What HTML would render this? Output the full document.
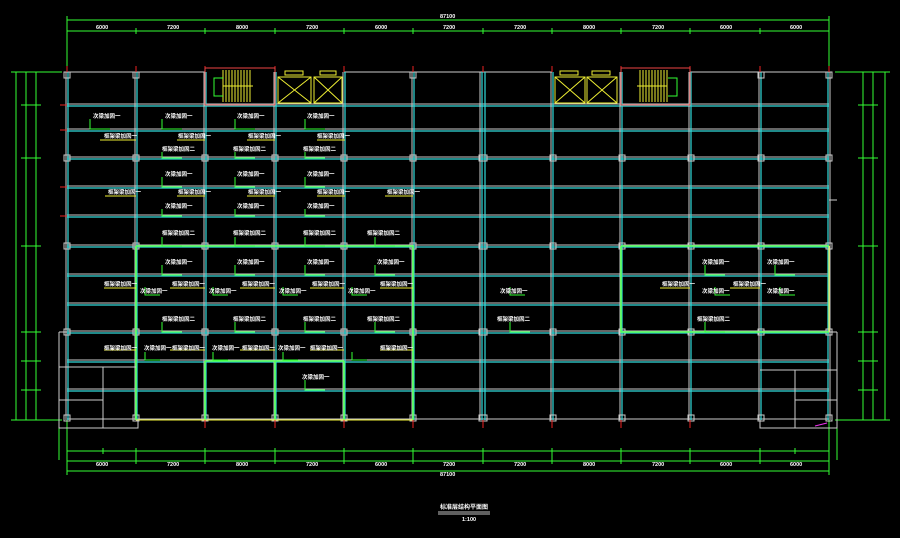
<!DOCTYPE html><html><head><meta charset="utf-8"><style>html,body{margin:0;background:#000;width:900px;height:538px;overflow:hidden}svg{display:block}text{font-family:"Liberation Sans","Noto Sans CJK SC",sans-serif;font-size:5.5px;fill:#fff;font-weight:bold}</style></head><body>
<svg width="900" height="538" viewBox="0 0 900 538">
<g stroke-width="1" fill="none">
<g stroke="#3f3">
<line x1="67" y1="20" x2="829" y2="20"/><line x1="67" y1="31" x2="829" y2="31"/>
<line x1="67" y1="16" x2="67" y2="72"/><line x1="829" y1="16" x2="829" y2="72"/>
<line x1="67" y1="451" x2="829" y2="451"/><line x1="67" y1="461" x2="829" y2="461"/><line x1="67" y1="471" x2="829" y2="471"/>
<line x1="59" y1="420" x2="59" y2="460"/><line x1="67" y1="420" x2="67" y2="475"/><line x1="837" y1="420" x2="837" y2="460"/><line x1="829" y1="420" x2="829" y2="475"/>
<line x1="16" y1="72" x2="16" y2="420"/><line x1="26" y1="72" x2="26" y2="420"/><line x1="36" y1="72" x2="36" y2="420"/>
<line x1="11" y1="72" x2="62" y2="72"/><line x1="11" y1="420" x2="62" y2="420"/>
<line x1="863" y1="72" x2="863" y2="420"/><line x1="873" y1="72" x2="873" y2="420"/><line x1="885" y1="72" x2="885" y2="420"/>
<line x1="835" y1="72" x2="890" y2="72"/><line x1="835" y1="420" x2="890" y2="420"/>
</g>
<g stroke="#3f3" stroke-width="1">
<path d="M136 28v6M205 28v6M275 28v6M344 28v6M413 28v6M483 28v6M552 28v6M621 28v6M690 28v6M760 28v6M136 448v16M205 448v16M275 448v16M344 448v16M413 448v16M483 448v16M552 448v16M621 448v16M690 448v16M760 448v16M103 448v6M795 448v6"/>
<path d="M21 105h20M21 158h20M21 246h20M21 332h20M21 361h20M21 390h20M858 105h20M858 158h20M858 246h20M858 332h20M858 361h20M858 390h20"/>
</g>
<g stroke="#ccc">
<path d="M67 72H205M344 72H552M690 72H829M67 104H829M67 129H829M67 157H829M67 186H829M67 215H829M67 245H829M67 274H829M67 303H829M67 331H829M67 360H829M67 389H829M67 419H829"/>
</g>
<g stroke="#3dd" stroke-width="1.2">
<path d="M67 106H829M67 131H829M67 159H829M67 188H829M67 217H829M67 247H829M67 276H829M67 305H829M67 333H829M67 362H829M67 391H829"/>
</g>
<g stroke="#ccc"><path d="M66 72V420M135 72V420M204 72V420M274 72V420M343 72V420M412 72V420M480 72V420M551 72V420M620 72V420M689 72V420M759 72V420M830 72V420"/></g>
<g stroke="#3dd" stroke-width="1.2"><path d="M68 72V420M137 72V420M206 72V420M276 72V420M345 72V420M414 72V420M482 72V420M485 72V420M553 72V420M622 72V420M691 72V420M761 72V420M828 72V420"/></g>
<!-- columns -->
<g stroke="#ccc">
<path d="M64 155h6v6h-6zM133 155h6v6h-6zM202 155h6v6h-6zM272 155h6v6h-6zM341 155h6v6h-6zM410 155h6v6h-6zM479 155h8v6h-8zM550 155h6v6h-6zM619 155h6v6h-6zM688 155h6v6h-6zM758 155h6v6h-6zM826 155h6v6h-6z"/>
<path d="M64 243h6v6h-6zM133 243h6v6h-6zM202 243h6v6h-6zM272 243h6v6h-6zM341 243h6v6h-6zM410 243h6v6h-6zM479 243h8v6h-8zM550 243h6v6h-6zM619 243h6v6h-6zM688 243h6v6h-6zM758 243h6v6h-6zM826 243h6v6h-6z"/>
<path d="M64 329h6v6h-6zM133 329h6v6h-6zM202 329h6v6h-6zM272 329h6v6h-6zM341 329h6v6h-6zM410 329h6v6h-6zM479 329h8v6h-8zM550 329h6v6h-6zM619 329h6v6h-6zM688 329h6v6h-6zM758 329h6v6h-6zM826 329h6v6h-6z"/>
<path d="M64 415h6v6h-6zM133 415h6v6h-6zM202 415h6v6h-6zM272 415h6v6h-6zM341 415h6v6h-6zM410 415h6v6h-6zM479 415h8v6h-8zM550 415h6v6h-6zM619 415h6v6h-6zM688 415h6v6h-6zM758 415h6v6h-6zM826 415h6v6h-6z"/>
<path d="M64 72h6v6h-6zM133 72h6v6h-6zM410 72h6v6h-6zM758 72h6v6h-6zM826 72h6v6h-6z"/>
</g>
<g stroke="#5f5" stroke-width="1.6"><path d="M136 246H413V420M136 246V420M205 361V420M275 361V420M344 361V420M205 361H344M621 246H829M621 246V332H829"/></g>
<g stroke="#ee3"><path d="M136 420H413M829 246V332"/></g>
<g stroke="#e22"><path d="M67 66v6M136 66v6M205 66v6M275 66v6M344 66v6M413 66v6M483 66v6M552 66v6M621 66v6M690 66v6M760 66v6M829 66v6M60 105h7M60 130h7M60 187h7M60 216h7M205 420v8M275 420v8M344 420v8M413 420v8M483 420v8M552 420v8M621 420v8M690 420v8M760 420v8"/></g>
<g stroke="#ccc"><path d="M59 332V428H138V420M59 332H67M59 367H136M103 367V428M59 400H103"/></g>
<g stroke="#ccc"><path d="M837 332V428H760V420M829 332H837M760 370H837M795 370V428M795 400H837M829 200H837"/></g>
<g stroke="#e44"><rect x="205" y="68" width="70" height="37"/><rect x="621" y="68" width="69" height="37"/></g>
<g stroke="#ee3">
<rect x="278" y="77" width="33" height="26"/><rect x="314" y="77" width="28" height="26"/><path d="M278 77l33 26M311 77l-33 26M314 77l28 26M342 77l-28 26"/>
<rect x="555" y="77" width="30" height="26"/><rect x="587" y="77" width="30" height="26"/><path d="M555 77l30 26M585 77l-30 26M587 77l30 26M617 77l-30 26"/>
<rect x="285" y="71" width="18" height="4"/><rect x="320" y="71" width="16" height="4"/><rect x="560" y="71" width="18" height="4"/><rect x="592" y="71" width="18" height="4"/>
<path d="M223 70v32M226 70v32M229 70v32M232 70v32M235 70v32M238 70v32M241 70v32M244 70v32M247 70v32M250 70v32M223 86h30M640 70v32M643 70v32M646 70v32M649 70v32M652 70v32M655 70v32M658 70v32M661 70v32M664 70v32M667 70v32M637 86h30"/>
</g>
<g stroke="#3f3"><path d="M223 78h-9v18h9M668 78h9v18h-9"/></g>
<g stroke="#3f3"><path d="M90 119v10h20M162 119v10h20M235 119v10h20M305 119v10h20M162 152v6h20M235 152v6h20M305 152v6h20M162 177v10h20M235 177v10h20M305 177v10h20M162 209v7h20M235 209v7h20M305 209v7h20M162 237v9h20M235 237v9h20M305 237v9h20M375 237v9h20M162 265v10h20M235 265v10h20M305 265v10h20M375 265v10h20M705 265v10h20M775 265v10h20M145 287v8h15M213 287v8h15M283 287v8h15M352 287v8h15M510 287v8h15M715 287v8h15M780 287v8h15M162 322v10h20M235 322v10h20M305 322v10h20M375 322v10h20M510 322v10h20M705 322v10h20M145 352v8h15M213 352v8h15M283 352v8h15M352 352v8h15M305 380v10h20"/></g>
<g stroke="#ee3"><path d="M100 140h36M177 140h28M247 140h28M317 140h28M105 196h31M177 196h28M247 196h28M317 196h28M385 196h28M104 288h32M170 288h35M240 288h35M310 288h34M380 288h33M660 288h30M730 288h30M104 350h32M170 350h35M240 350h35M310 350h34M380 350h33"/></g>
<path d="M815 426l12-3" stroke="#e3e"/>
</g>
<g>
<text x="93" y="118">次梁加固一</text><text x="165" y="118">次梁加固一</text><text x="237" y="118">次梁加固一</text><text x="307" y="118">次梁加固一</text>
<text x="104" y="138">框架梁加固一</text><text x="178" y="138">框架梁加固一</text><text x="248" y="138">框架梁加固一</text><text x="317" y="138">框架梁加固一</text>
<text x="162" y="151">框架梁加固二</text><text x="233" y="151">框架梁加固二</text><text x="303" y="151">框架梁加固二</text>
<text x="165" y="176">次梁加固一</text><text x="237" y="176">次梁加固一</text><text x="307" y="176">次梁加固一</text>
<text x="108" y="194">框架梁加固一</text><text x="178" y="194">框架梁加固一</text><text x="248" y="194">框架梁加固一</text><text x="317" y="194">框架梁加固一</text><text x="387" y="194">框架梁加固一</text>
<text x="165" y="208">次梁加固一</text><text x="237" y="208">次梁加固一</text><text x="307" y="208">次梁加固一</text>
<text x="162" y="235">框架梁加固二</text><text x="233" y="235">框架梁加固二</text><text x="303" y="235">框架梁加固二</text><text x="367" y="235">框架梁加固二</text>
<text x="165" y="264">次梁加固一</text><text x="237" y="264">次梁加固一</text><text x="307" y="264">次梁加固一</text><text x="377" y="264">次梁加固一</text><text x="702" y="264">次梁加固一</text><text x="767" y="264">次梁加固一</text>
<text x="104" y="286">框架梁加固一</text><text x="140" y="293">次梁加固一</text><text x="172" y="286">框架梁加固一</text><text x="209" y="293">次梁加固一</text><text x="242" y="286">框架梁加固一</text><text x="279" y="293">次梁加固一</text><text x="312" y="286">框架梁加固一</text><text x="348" y="293">次梁加固一</text><text x="380" y="286">框架梁加固一</text><text x="500" y="293">次梁加固一</text><text x="662" y="286">框架梁加固一</text><text x="702" y="293">次梁加固一</text><text x="733" y="286">框架梁加固一</text><text x="767" y="293">次梁加固一</text>
<text x="162" y="321">框架梁加固二</text><text x="233" y="321">框架梁加固二</text><text x="303" y="321">框架梁加固二</text><text x="367" y="321">框架梁加固二</text><text x="497" y="321">框架梁加固二</text><text x="697" y="321">框架梁加固二</text>
<text x="104" y="350">框架梁加固一</text><text x="144" y="350">次梁加固一</text><text x="172" y="350">框架梁加固一</text><text x="212" y="350">次梁加固一</text><text x="242" y="350">框架梁加固一</text><text x="278" y="350">次梁加固一</text><text x="310" y="350">框架梁加固一</text><text x="380" y="350">框架梁加固一</text>
<text x="302" y="379">次梁加固一</text>
<text x="440" y="509" style="font-size:6px">标准层结构平面图</text><text x="462" y="521">1:100</text>
</g>
<g stroke="#fff" stroke-width="0.8"><line x1="438" y1="512" x2="490" y2="512"/><line x1="438" y1="514" x2="490" y2="514"/></g>
<g style="font-size:4.5px">
<text x="96" y="29">6000</text><text x="167" y="29">7200</text><text x="236" y="29">8000</text><text x="306" y="29">7200</text><text x="375" y="29">6000</text><text x="443" y="29">7200</text><text x="514" y="29">7200</text><text x="583" y="29">8000</text><text x="652" y="29">7200</text><text x="720" y="29">6000</text><text x="790" y="29">6000</text><text x="440" y="18">87100</text>
<text x="96" y="466">6000</text><text x="167" y="466">7200</text><text x="236" y="466">8000</text><text x="306" y="466">7200</text><text x="375" y="466">6000</text><text x="443" y="466">7200</text><text x="514" y="466">7200</text><text x="583" y="466">8000</text><text x="652" y="466">7200</text><text x="720" y="466">6000</text><text x="790" y="466">6000</text><text x="440" y="476">87100</text>
</g>
</svg></body></html>
